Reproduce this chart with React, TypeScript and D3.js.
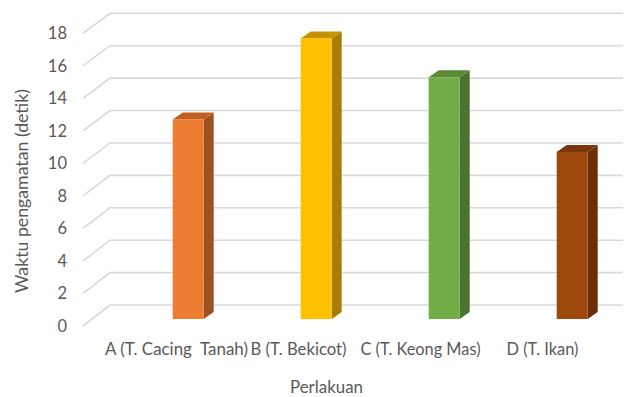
import React from "react";
import * as d3 from "d3";

const categories = ["A (T. Cacing  Tanah)", "B (T. Bekicot)", "C (T. Keong Mas)", "D (T. Ikan)"];
const values = [12.3, 17.3, 14.9, 10.3];
const yTicks = [0, 2, 4, 6, 8, 10, 12, 14, 16, 18];
const frontColors = ["#ED7D31", "#FFC000", "#70AD47", "#9E480E"];
const topColors = ["#C0601F", "#C49300", "#5A8A38", "#7B370B"];
const sideColors = ["#9E5020", "#A67E00", "#4A7330", "#6A2E08"];
const yTitle = "Waktu pengamatan (detik)";
const xTitle = "Perlakuan";

const W = 626;
const H = 397;
const FONT = "Lato, 'Open Sans', sans-serif";
const TXT = "#595959";

export default function App() {
  // back wall, front edge, and bar-depth value scales
  const yBack = d3.scaleLinear().domain([0, 18]).range([305, 13.3]);
  const yFront = d3.scaleLinear().domain([0, 18]).range([326, 33.3]);
  const yBar = d3.scaleLinear().domain([0, 18]).range([319, 319 - 18 * 16.22]);
  const xBar = d3.scalePoint<string>().domain(categories).range([188.2, 572.2]);
  const xLabel = d3.scalePoint<string>().domain(categories).range([176.5, 542.5]);
  const barW = 31;
  const dx = 10;
  const dy = 7;
  const labelWidths = [143, 96, 120, 72];

  return (
    <svg width={W} height={H} style={{ position: "absolute", left: 0, top: 0, background: "#fff" }}>
      <rect x={0} y={0} width={W} height={H} fill="#fff" />
      {yTicks.map((t) => (
        <g key={t}>
          <polyline
            points={`83,${yFront(t)} 110,${yBack(t)} 623,${yBack(t)}`}
            fill="none"
            stroke="#D9D9D9"
            strokeWidth={1.6}
          />
          <text
            x={67}
            y={yFront(t)}
            textAnchor="end"
            dominantBaseline="central"
            fontFamily={FONT}
            fontSize={16.5}
            fill={TXT}
          >
            {t}
          </text>
        </g>
      ))}
      {categories.map((c, i) => {
        const x0 = (xBar(c) as number) - barW / 2;
        const x1 = x0 + barW;
        const yb = yBar(0);
        const yt = yBar(values[i]);
        return (
          <g key={c}>
            <polygon
              points={`${x1},${yt} ${x1 + dx},${yt - dy} ${x1 + dx},${yb - dy} ${x1},${yb}`}
              fill={sideColors[i]}
            />
            <polygon
              points={`${x0},${yt} ${x0 + dx},${yt - dy} ${x1 + dx},${yt - dy} ${x1},${yt}`}
              fill={topColors[i]}
            />
            <rect x={x0} y={yt} width={barW} height={yb - yt} fill={frontColors[i]} />
          </g>
        );
      })}
      {categories.map((c, i) => (
        <text
          key={c}
          x={xLabel(c) as number}
          y={349}
          textAnchor="middle"
          dominantBaseline="central"
          fontFamily={FONT}
          fontSize={16.5}
          fill={TXT}
          textLength={labelWidths[i]}
          lengthAdjust="spacingAndGlyphs"
          style={{ whiteSpace: "pre" }}
        >
          {c}
        </text>
      ))}
      <text
        x={326.5}
        y={387}
        textAnchor="middle"
        dominantBaseline="central"
        fontFamily={FONT}
        fontSize={16.5}
        fill={TXT}
        textLength={73}
        lengthAdjust="spacingAndGlyphs"
      >
        {xTitle}
      </text>
      <text
        transform={`translate(22,191) rotate(-90)`}
        textAnchor="middle"
        dominantBaseline="central"
        fontFamily={FONT}
        fontSize={16.5}
        fill={TXT}
        textLength={204}
        lengthAdjust="spacingAndGlyphs"
      >
        {yTitle}
      </text>
    </svg>
  );
}
